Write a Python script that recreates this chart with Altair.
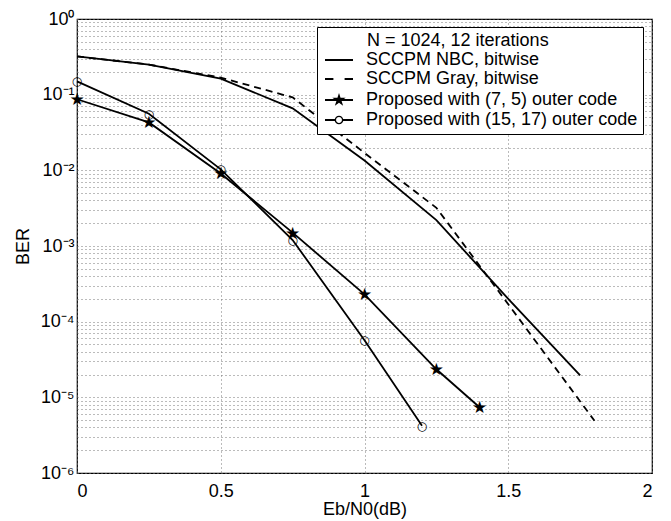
import altair as alt
import pandas as pd

# ---- data ----
nbc_x = [0, 0.25, 0.5, 0.75, 1.0, 1.25, 1.5, 1.75]
nbc_ber = [0.32, 0.25, 0.163, 0.066, 0.0135, 0.0022, 2.0e-4, 1.95e-5]

gray_x = [0, 0.25, 0.5, 0.75, 1.0, 1.25, 1.5, 1.8]
gray_ber = [0.32, 0.25, 0.168, 0.092, 0.017, 0.0032, 1.7e-4, 4.9e-6]

p75_x = [0, 0.25, 0.5, 0.75, 1.0, 1.25, 1.4]
p75_ber = [0.087, 0.043, 0.0091, 0.0015, 2.3e-4, 2.35e-5, 7.4e-6]

p1517_x = [0, 0.25, 0.5, 0.75, 1.0, 1.2]
p1517_ber = [0.15, 0.056, 0.0103, 1.2e-3, 5.7e-5, 4.2e-6]

series_names = [
    "SCCPM NBC, bitwise",
    "SCCPM Gray, bitwise",
    "Proposed with (7, 5) outer code",
    "Proposed with (15, 17) outer code",
]
legend_title = "\u200b" + "\u00a0" * 9 + "N = 1024, 12 iterations"
x_title = "Eb/N0(dB)"
y_title = "BER"
x_ticks = [0, 0.5, 1, 1.5, 2]
y_decades = [1e-6, 1e-5, 1e-4, 1e-3, 1e-2, 1e-1, 1]
y_tick_labels = ["10⁻⁶", "10⁻⁵", "10⁻⁴", "10⁻³", "10⁻²", "10⁻¹", "10⁰"]
star_glyph = "★"
circle_glyph = "○"

rows = []
for name, xs, ys in zip(series_names,
                        [nbc_x, gray_x, p75_x, p1517_x],
                        [nbc_ber, gray_ber, p75_ber, p1517_ber]):
    for a, b in zip(xs, ys):
        rows.append({"series": name, "snr": float(a), "ber": float(b)})
df = pd.DataFrame(rows)

FONT = "Liberation Sans"

y_grid_vals = []
for d in y_decades[:-1]:
    for m in range(1, 10):
        y_grid_vals.append(float(f"{m * d:.3g}"))
y_grid_vals.append(1.0)

label_arr = "[" + ",".join("'" + s + "'" for s in y_tick_labels) + "]"
y_label_expr = (
    "abs(log(datum.value)/LN10 - round(log(datum.value)/LN10)) < 0.001 ? "
    + label_arr + "[round(log(datum.value)/LN10)+6] : ''"
)

x_enc = alt.X(
    "snr:Q",
    scale=alt.Scale(domain=[0, 2], nice=False),
    axis=alt.Axis(
        values=x_ticks, format="~g", title=x_title, grid=True,
        gridDash=[1, 3], gridColor="#777", gridWidth=1,
        ticks=False, domain=False, labelPadding=9,
        labelFont=FONT, labelFontSize=18, labelColor="black",
        titleFont=FONT, titleFontSize=18, titleFontWeight="normal",
        titleColor="black", titlePadding=0,
    ),
)
y_enc = alt.Y(
    "ber:Q",
    scale=alt.Scale(type="log", domain=[1e-6, 1], nice=False),
    axis=alt.Axis(
        values=y_grid_vals, labelExpr=y_label_expr, title=y_title,
        grid=True, gridDash=[1, 3], gridColor="#777", gridWidth=1,
        ticks=False, domain=False, labelPadding=3, labelOverlap=False,
        labelFont=FONT, labelFontSize=18, labelColor="black",
        titleFont=FONT, titleFontSize=18, titleFontWeight="normal",
        titleColor="black", titlePadding=8,
    ),
)

# legend symbols drawn as filled shapes (unit box, 1 unit = 7 px)
solid_sym = "M-2,-0.14H2V0.14H-2Z"
dashed_sym = "M-2,-0.14H-0.8V0.14H-2ZM0.8,-0.14H2V0.14H0.8Z"
star_sym = ("M-2,-0.14H2V0.14H-2Z"
            "M0,-1L0.223,-0.307L0.951,-0.309L0.361,0.117L0.588,0.809"
            "L0,0.38L-0.588,0.809L-0.361,0.117L-0.951,-0.309L-0.223,-0.307Z")
ring_sym = ("M-2,-0.14H-0.55V0.14H-2ZM0.55,-0.14H2V0.14H0.55Z"
            "M0.62,0A0.62,0.62 0 1,1 -0.62,0A0.62,0.62 0 1,1 0.62,0Z"
            "M0.42,0A0.42,0.42 0 1,0 -0.42,0A0.42,0.42 0 1,0 0.42,0Z")

legend = alt.Legend(
    title=legend_title, orient="none", legendX=240, legendY=8,
    fillColor="white", strokeColor="black", padding=5,
    symbolSize=196, symbolStrokeWidth=1.8, symbolStrokeColor="black",
    symbolFillColor="black", symbolOpacity=1,
    symbolOffset=8, labelOffset=18,
    labelFont=FONT, labelFontSize=18, labelColor="black", labelLimit=400,
    titleFont=FONT, titleFontSize=18, titleFontWeight="normal",
    titleColor="black", titlePadding=1, rowPadding=1, titleLimit=400,
)

# invisible carrier layer: only provides the legend
legend_layer = alt.Chart(df).mark_point(
    opacity=0, size=196, strokeWidth=1.8, color="black", filled=True
).encode(
    x=x_enc, y=y_enc,
    shape=alt.Shape("series:N", scale=alt.Scale(
        domain=series_names,
        range=[solid_sym, dashed_sym, star_sym, ring_sym]),
        legend=legend),
)

def curve(name, dash=None):
    kw = {"color": "black", "strokeWidth": 1.8}
    if dash:
        kw["strokeDash"] = dash
    return alt.Chart(df).transform_filter(
        alt.datum.series == name
    ).mark_line(**kw).encode(x="snr:Q", y="ber:Q")

nbc_line = curve(series_names[0])
gray_line = curve(series_names[1], [7, 5])
p75_line = curve(series_names[2])
p1517_line = curve(series_names[3])

stars = alt.Chart(df).transform_filter(
    alt.datum.series == series_names[2]
).mark_text(text=star_glyph, font="DejaVu Sans", fontSize=17, color="black",
            align="center", baseline="middle", dy=1).encode(
    x="snr:Q", y="ber:Q"
)
circles = alt.Chart(df).transform_filter(
    alt.datum.series == series_names[3]
).mark_text(text=circle_glyph, font="DejaVu Sans", fontSize=12,
            fontWeight="bold", color="black",
            align="center", baseline="middle", dy=0).encode(
    x="snr:Q", y="ber:Q"
)

chart = alt.layer(
    legend_layer, nbc_line, gray_line, p75_line, p1517_line, stars, circles
).properties(
    width=575, height=454, autosize="none",
    padding={"left": 69, "top": 11, "right": 10, "bottom": 48},
    background="white",
).configure_view(stroke="black", strokeWidth=1.2)

chart.save("out.html", embed_options={"renderer": "svg", "actions": False})
